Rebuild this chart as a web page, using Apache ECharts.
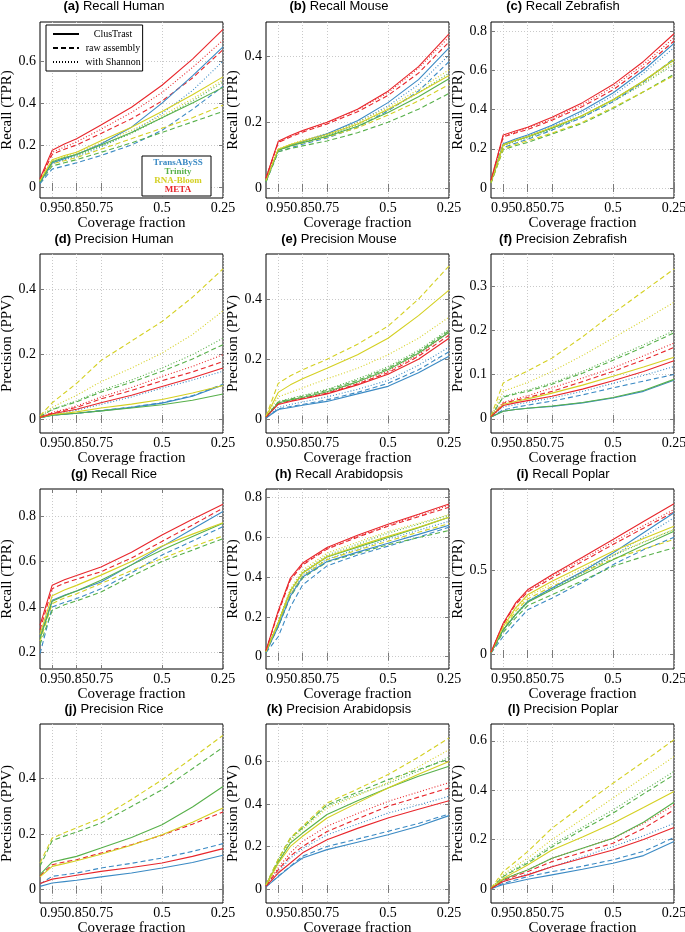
<!DOCTYPE html>
<html><head><meta charset="utf-8">
<script src="https://cdn.jsdelivr.net/npm/echarts@6/dist/echarts.min.js"></script>
<style>html,body{margin:0;padding:0;background:#fff}#c{width:685px;height:932px}</style>
</head><body><div id="c"></div>
<script>
// x positions (coverage fraction) at which every curve is sampled
const coverage = [1, 0.95, 0.9, 0.85, 0.75, 0.625, 0.5, 0.375, 0.25];
const xTickValues = [0.95, 0.85, 0.75, 0.5, 0.25];
const tools = ['TransABySS', 'Trinity', 'RNA-Bloom', 'META'];
const variants = ['ClusTrast', 'raw assembly', 'with Shannon'];
// each tool: [ClusTrast, raw assembly, with Shannon]
const recallHuman = {
  'TransABySS': [[0.02,0.115,0.135,0.155,0.205,0.285,0.40,0.53,0.668],[0.015,0.085,0.10,0.115,0.15,0.20,0.27,0.37,0.48],[0.02,0.11,0.13,0.145,0.19,0.26,0.35,0.46,0.60]],
  'Trinity':    [[0.025,0.12,0.14,0.155,0.2,0.26,0.33,0.40,0.475],[0.02,0.10,0.115,0.13,0.165,0.21,0.26,0.31,0.36],[0.025,0.115,0.135,0.15,0.195,0.255,0.33,0.41,0.50]],
  'RNA-Bloom':  [[0.03,0.13,0.15,0.165,0.22,0.285,0.36,0.44,0.525],[0.025,0.11,0.125,0.14,0.18,0.23,0.28,0.33,0.39],[0.03,0.125,0.145,0.16,0.21,0.27,0.34,0.42,0.51]],
  'META':       [[0.04,0.175,0.205,0.23,0.295,0.38,0.485,0.61,0.752],[0.035,0.155,0.18,0.20,0.255,0.325,0.41,0.52,0.655],[0.04,0.165,0.19,0.215,0.275,0.355,0.45,0.57,0.70]]
};
const recallMouse = {
  'TransABySS': [[0.02,0.115,0.13,0.142,0.165,0.205,0.26,0.33,0.427],[0.018,0.11,0.122,0.133,0.152,0.185,0.235,0.295,0.385],[0.02,0.115,0.128,0.14,0.162,0.2,0.25,0.315,0.405]],
  'Trinity':    [[0.02,0.115,0.128,0.138,0.157,0.188,0.23,0.278,0.333],[0.018,0.11,0.12,0.128,0.143,0.168,0.2,0.24,0.288],[0.02,0.115,0.13,0.14,0.16,0.193,0.237,0.29,0.35]],
  'RNA-Bloom':  [[0.022,0.118,0.132,0.143,0.163,0.195,0.24,0.29,0.343],[0.02,0.115,0.127,0.137,0.155,0.183,0.222,0.265,0.315],[0.022,0.118,0.133,0.145,0.166,0.2,0.245,0.3,0.36]],
  'META':       [[0.03,0.142,0.16,0.175,0.2,0.24,0.295,0.37,0.47],[0.028,0.138,0.155,0.17,0.195,0.232,0.282,0.35,0.445],[0.03,0.14,0.158,0.173,0.198,0.238,0.29,0.365,0.46]]
};
const recallZebrafish = {
  'TransABySS': [[0.03,0.225,0.25,0.27,0.32,0.395,0.484,0.6,0.737],[0.025,0.205,0.228,0.248,0.295,0.36,0.44,0.54,0.66],[0.03,0.22,0.245,0.265,0.313,0.385,0.47,0.585,0.715]],
  'Trinity':    [[0.03,0.22,0.242,0.26,0.305,0.37,0.45,0.545,0.652],[0.025,0.195,0.215,0.232,0.275,0.33,0.405,0.49,0.58],[0.028,0.215,0.237,0.255,0.3,0.362,0.44,0.53,0.63]],
  'RNA-Bloom':  [[0.03,0.22,0.243,0.262,0.31,0.37,0.45,0.545,0.655],[0.025,0.2,0.222,0.24,0.28,0.335,0.41,0.49,0.573],[0.03,0.215,0.24,0.26,0.305,0.37,0.447,0.535,0.64]],
  'META':       [[0.04,0.27,0.29,0.31,0.36,0.435,0.527,0.645,0.786],[0.035,0.26,0.28,0.298,0.345,0.415,0.5,0.615,0.749],[0.04,0.265,0.285,0.305,0.352,0.425,0.515,0.63,0.766]]
};
const precisionHuman = {
  'TransABySS': [[0.004,0.012,0.015,0.018,0.025,0.036,0.049,0.07,0.105],[0.004,0.012,0.015,0.018,0.026,0.037,0.05,0.072,0.107],[0.005,0.014,0.02,0.027,0.045,0.068,0.095,0.12,0.147]],
  'Trinity':    [[0.004,0.012,0.015,0.018,0.025,0.034,0.044,0.058,0.077],[0.008,0.029,0.041,0.053,0.083,0.113,0.147,0.185,0.229],[0.008,0.03,0.043,0.056,0.088,0.12,0.157,0.198,0.249]],
  'RNA-Bloom':  [[0.005,0.014,0.018,0.022,0.034,0.046,0.06,0.08,0.103],[0.01,0.05,0.08,0.11,0.18,0.24,0.30,0.375,0.462],[0.01,0.036,0.055,0.073,0.115,0.157,0.203,0.26,0.333]],
  'META':       [[0.005,0.016,0.023,0.03,0.05,0.073,0.10,0.127,0.157],[0.006,0.018,0.027,0.036,0.062,0.088,0.118,0.145,0.177],[0.006,0.02,0.03,0.04,0.068,0.097,0.131,0.162,0.198]]
};
const precisionMouse = {
  'TransABySS': [[0.005,0.033,0.04,0.047,0.06,0.085,0.11,0.155,0.21],[0.005,0.035,0.043,0.05,0.065,0.09,0.12,0.165,0.225],[0.006,0.04,0.05,0.058,0.075,0.1,0.13,0.18,0.24]],
  'Trinity':    [[0.008,0.055,0.065,0.073,0.092,0.125,0.165,0.22,0.29],[0.008,0.058,0.068,0.077,0.097,0.13,0.17,0.225,0.295],[0.008,0.06,0.07,0.08,0.1,0.135,0.175,0.23,0.30]],
  'RNA-Bloom':  [[0.01,0.09,0.115,0.135,0.17,0.215,0.27,0.345,0.43],[0.01,0.12,0.145,0.165,0.2,0.25,0.31,0.4,0.51],[0.01,0.075,0.09,0.105,0.135,0.17,0.215,0.27,0.34]],
  'META':       [[0.008,0.05,0.06,0.068,0.085,0.115,0.15,0.2,0.27],[0.008,0.053,0.062,0.07,0.087,0.118,0.155,0.21,0.28],[0.008,0.055,0.064,0.072,0.09,0.122,0.16,0.215,0.29]]
};
const precisionZebrafish = {
  'TransABySS': [[0.004,0.017,0.021,0.024,0.028,0.036,0.047,0.062,0.087],[0.004,0.02,0.026,0.031,0.04,0.054,0.07,0.085,0.10],[0.005,0.027,0.032,0.037,0.047,0.062,0.08,0.098,0.118]],
  'Trinity':    [[0.004,0.017,0.021,0.024,0.029,0.037,0.048,0.064,0.089],[0.005,0.049,0.056,0.062,0.078,0.103,0.132,0.162,0.194],[0.005,0.051,0.058,0.065,0.081,0.107,0.137,0.167,0.199]],
  'RNA-Bloom':  [[0.005,0.033,0.039,0.045,0.058,0.076,0.096,0.117,0.139],[0.006,0.081,0.095,0.108,0.137,0.185,0.238,0.288,0.338],[0.006,0.062,0.072,0.082,0.107,0.143,0.182,0.222,0.263]],
  'META':       [[0.005,0.03,0.036,0.041,0.051,0.067,0.086,0.107,0.131],[0.005,0.035,0.042,0.048,0.062,0.084,0.107,0.133,0.161],[0.005,0.037,0.045,0.052,0.07,0.092,0.115,0.142,0.171]]
};
const recallRice = {
  'TransABySS': [[0.27,0.43,0.452,0.47,0.51,0.585,0.665,0.742,0.819],[0.195,0.40,0.42,0.437,0.48,0.55,0.628,0.69,0.753],null],
  'Trinity':    [[0.26,0.425,0.45,0.47,0.518,0.585,0.65,0.71,0.768],[0.235,0.385,0.41,0.427,0.466,0.535,0.6,0.65,0.70],null],
  'RNA-Bloom':  [[0.28,0.45,0.475,0.495,0.54,0.6,0.668,0.72,0.77],[0.25,0.415,0.44,0.458,0.503,0.56,0.613,0.665,0.712],null],
  'META':       [[0.32,0.496,0.52,0.538,0.576,0.64,0.716,0.785,0.851],[0.30,0.48,0.505,0.522,0.555,0.615,0.688,0.76,0.834],null]
};
const recallArabidopsis = {
  'TransABySS': [[0.022,0.15,0.305,0.4,0.478,0.525,0.57,0.614,0.66],[0.02,0.10,0.25,0.36,0.456,0.51,0.555,0.6,0.65],[0.022,0.155,0.315,0.41,0.49,0.54,0.59,0.635,0.68]],
  'Trinity':    [[0.025,0.17,0.33,0.42,0.5,0.55,0.598,0.648,0.70],[0.022,0.15,0.3,0.395,0.475,0.52,0.562,0.598,0.634],[0.025,0.172,0.335,0.425,0.51,0.565,0.62,0.665,0.71]],
  'RNA-Bloom':  [[0.025,0.17,0.33,0.42,0.503,0.555,0.604,0.65,0.70],[0.025,0.16,0.31,0.405,0.487,0.535,0.58,0.625,0.668],[0.025,0.175,0.34,0.435,0.52,0.575,0.628,0.67,0.713]],
  'META':       [[0.03,0.23,0.395,0.47,0.548,0.61,0.665,0.715,0.767],[0.03,0.22,0.385,0.46,0.54,0.6,0.655,0.703,0.75],[0.03,0.225,0.39,0.465,0.543,0.605,0.66,0.71,0.76]]
};
const recallPoplar = {
  'TransABySS': [[0.008,0.145,0.235,0.315,0.396,0.495,0.606,0.727,0.847],[0.005,0.105,0.185,0.265,0.335,0.43,0.536,0.625,0.70],[0.008,0.143,0.232,0.31,0.39,0.485,0.588,0.703,0.817]],
  'Trinity':    [[0.008,0.145,0.235,0.31,0.386,0.475,0.566,0.652,0.737],[0.006,0.13,0.215,0.29,0.355,0.44,0.526,0.585,0.637],[0.008,0.145,0.24,0.318,0.395,0.49,0.59,0.67,0.747]],
  'RNA-Bloom':  [[0.01,0.165,0.275,0.355,0.436,0.527,0.616,0.693,0.767],[0.008,0.15,0.255,0.33,0.405,0.49,0.57,0.63,0.687],[0.01,0.16,0.268,0.345,0.42,0.51,0.596,0.673,0.747]],
  'META':       [[0.01,0.185,0.305,0.385,0.476,0.58,0.687,0.795,0.902],[0.01,0.178,0.295,0.372,0.456,0.555,0.657,0.755,0.853],[0.01,0.18,0.3,0.378,0.468,0.568,0.672,0.77,0.867]]
};
const precisionRice = {
  'TransABySS': [[0.012,0.024,0.029,0.034,0.046,0.06,0.078,0.098,0.124],[0.02,0.048,0.054,0.06,0.078,0.095,0.114,0.138,0.166],null],
  'Trinity':    [[0.054,0.10,0.11,0.12,0.15,0.188,0.234,0.298,0.372],[0.084,0.177,0.193,0.208,0.24,0.3,0.36,0.436,0.513],null],
  'RNA-Bloom':  [[0.046,0.084,0.094,0.104,0.128,0.16,0.198,0.243,0.294],[0.096,0.186,0.205,0.223,0.258,0.325,0.396,0.475,0.556],null],
  'META':       [[0.022,0.038,0.045,0.052,0.066,0.08,0.096,0.12,0.148],[0.05,0.09,0.1,0.108,0.132,0.162,0.196,0.236,0.28],null]
};
const precisionArabidopsis = {
  'TransABySS': [[0.01,0.058,0.105,0.146,0.185,0.22,0.255,0.295,0.345],[0.01,0.06,0.107,0.154,0.2,0.235,0.271,0.308,0.353],[0.012,0.08,0.145,0.19,0.255,0.305,0.357,0.395,0.436]],
  'Trinity':    [[0.018,0.125,0.216,0.263,0.35,0.415,0.475,0.53,0.577],[0.02,0.138,0.24,0.287,0.395,0.455,0.514,0.562,0.611],[0.02,0.135,0.235,0.29,0.39,0.445,0.495,0.555,0.62]],
  'RNA-Bloom':  [[0.018,0.12,0.2,0.248,0.334,0.405,0.475,0.54,0.60],[0.02,0.14,0.24,0.295,0.404,0.47,0.538,0.62,0.71],[0.02,0.13,0.225,0.28,0.38,0.44,0.5,0.575,0.655]],
  'META':       [[0.012,0.075,0.122,0.17,0.232,0.285,0.334,0.375,0.415],[0.015,0.09,0.155,0.2,0.27,0.33,0.389,0.432,0.475],[0.015,0.1,0.17,0.224,0.295,0.355,0.412,0.456,0.50]]
};
const precisionPoplar = {
  'TransABySS': [[0.001,0.018,0.028,0.039,0.057,0.08,0.104,0.135,0.192],[0.001,0.022,0.036,0.05,0.07,0.092,0.118,0.152,0.208],[0.002,0.03,0.045,0.06,0.09,0.13,0.172,0.215,0.266]],
  'Trinity':    [[0.002,0.038,0.058,0.077,0.124,0.165,0.205,0.27,0.351],[0.002,0.05,0.078,0.104,0.17,0.24,0.307,0.385,0.462],[0.002,0.052,0.082,0.11,0.178,0.25,0.32,0.398,0.476]],
  'RNA-Bloom':  [[0.002,0.042,0.07,0.097,0.158,0.21,0.266,0.33,0.395],[0.002,0.07,0.11,0.151,0.246,0.338,0.428,0.515,0.604],[0.002,0.058,0.093,0.124,0.2,0.283,0.368,0.452,0.536]],
  'META':       [[0.002,0.03,0.044,0.057,0.09,0.124,0.158,0.2,0.249],[0.002,0.034,0.052,0.07,0.111,0.148,0.185,0.245,0.32],[0.002,0.038,0.058,0.077,0.124,0.165,0.205,0.265,0.34]]
};

const panelLetters = ['a','b','c','d','e','f','g','h','i','j','k','l'];
const panelTitles = ['Recall Human','Recall Mouse','Recall Zebrafish','Precision Human','Precision Mouse','Precision Zebrafish','Recall Rice','Recall Arabidopsis','Recall Poplar','Precision Rice','Precision Arabidopsis','Precision Poplar'];
const panelData = [recallHuman, recallMouse, recallZebrafish, precisionHuman, precisionMouse, precisionZebrafish, recallRice, recallArabidopsis, recallPoplar, precisionRice, precisionArabidopsis, precisionPoplar];
const yAxisNames = ['Recall (TPR)','Recall (TPR)','Recall (TPR)','Precision (PPV)','Precision (PPV)','Precision (PPV)','Recall (TPR)','Recall (TPR)','Recall (TPR)','Precision (PPV)','Precision (PPV)','Precision (PPV)'];
const yRanges = [[-0.053,0.787],[-0.031,0.506],[-0.051,0.846],[-0.043,0.508],[-0.045,0.55],[-0.032,0.372],[0.128,0.918],[-0.062,0.842],[-0.09,0.99],[-0.048,0.597],[-0.066,0.776],[-0.057,0.668]];
const yTickValues = [[0,0.2,0.4,0.6],[0,0.2,0.4],[0,0.2,0.4,0.6,0.8],[0,0.2,0.4],[0,0.2,0.4],[0,0.1,0.2,0.3],[0.2,0.4,0.6,0.8],[0,0.2,0.4,0.6,0.8],[0,0.5],[0,0.2,0.4],[0,0.2,0.4,0.6],[0,0.2,0.4,0.6]];

// ---- styling / layout ----
const toolColors = {'TransABySS':'#3b8ac4','Trinity':'#57b04a','RNA-Bloom':'#d4d022','META':'#e8262b'};
const variantDash = ['solid',[5,3],[1,2]];
const colLeft = [40, 266, 491], plotW = 183;
const rowTop = [22, 254, 489, 724], rowBottom = [198, 433, 669, 903];
const subCenter = [114, 339, 563];
const titleTop = [0, 233, 468, 703];
const SERIF = 'Liberation Serif';
const SANS = 'Liberation Sans';
const tickStyle = {color:'#7a7a7a', width:1};
const gridLineStyle = {color:'#c9c9c9', width:1, type:[1,2]};

const grid = [], xAxis = [], yAxis = [], series = [], title = [];
panelTitles.forEach((t, p) => {
  const r = Math.floor(p / 3), c = p % 3;
  grid.push({left: colLeft[c], top: rowTop[r], width: plotW, height: rowBottom[r] - rowTop[r],
    show: true, borderColor: '#000', borderWidth: 1, backgroundColor: 'transparent', containLabel: false, outerBoundsMode: 'none'});
  title.push({text: '{b|(' + panelLetters[p] + ')} {n|' + t + '}', left: subCenter[c], top: titleTop[r], textAlign: 'center', padding: 0,
    textStyle: {fontWeight: 'normal', fontSize: 13, rich: {b: {fontFamily: SANS, fontWeight: 'bold', fontSize: 13, color: '#000'}, n: {fontFamily: SANS, fontWeight: 'normal', fontSize: 13, color: '#000'}}}});
  xAxis.push({gridIndex: p, type: 'value', min: 0.25, max: 1, inverse: true, position: 'bottom',
    name: 'Coverage fraction', nameLocation: 'middle', nameGap: 13,
    nameTextStyle: {fontFamily: SERIF, fontSize: 15, color: '#000'},
    axisLine: {show: false},
    axisTick: {show: true, inside: true, length: 4, customValues: xTickValues, lineStyle: tickStyle},
    axisLabel: {customValues: xTickValues, formatter: v => String(v), margin: 3, fontFamily: SERIF, fontSize: 14, color: '#000'},
    splitLine: {show: true, lineStyle: gridLineStyle}});
  xAxis.push({gridIndex: p, type: 'value', min: 0.25, max: 1, inverse: true, position: 'top',
    axisLine: {show: false}, axisTick: {show: true, inside: true, length: 4, customValues: xTickValues, lineStyle: tickStyle},
    axisLabel: {show: false}, splitLine: {show: false}});
  yAxis.push({gridIndex: p, type: 'value', min: yRanges[p][0], max: yRanges[p][1], position: 'left',
    name: yAxisNames[p], nameLocation: 'middle', nameGap: 23,
    nameTextStyle: {fontFamily: SERIF, fontSize: 15, color: '#000'},
    axisLine: {show: false},
    axisTick: {show: true, inside: true, length: 4, customValues: yTickValues[p], lineStyle: tickStyle},
    axisLabel: {customValues: yTickValues[p], formatter: v => String(v), margin: 4, fontFamily: SERIF, fontSize: 14, color: '#000'},
    splitLine: {show: true, lineStyle: gridLineStyle}});
  yAxis.push({gridIndex: p, type: 'value', min: yRanges[p][0], max: yRanges[p][1], position: 'right',
    axisLine: {show: false}, axisTick: {show: true, inside: true, length: 4, customValues: yTickValues[p], lineStyle: tickStyle},
    axisLabel: {show: false}, splitLine: {show: false}});
  // draw order: with Shannon, raw assembly, ClusTrast
  [2, 1, 0].forEach(v => {
    tools.forEach(tool => {
      const vals = panelData[p][tool][v];
      if (!vals) return;
      series.push({type: 'line', name: panelLetters[p] + ' ' + tool + ' ' + variants[v],
        xAxisIndex: 2 * p, yAxisIndex: 2 * p, symbol: 'none', silent: true, animation: false,
        data: coverage.map((cv, i) => [cv, vals[i]]),
        lineStyle: {color: toolColors[tool], width: 1.1, type: variantDash[v]}});
    });
  });
});
// legend-only series (no data)
variants.forEach((v, i) => series.push({type: 'line', name: v, xAxisIndex: 0, yAxisIndex: 0, data: [], symbol: 'none',
  itemStyle: {opacity: 0}, lineStyle: {color: '#000', width: 1.1, type: variantDash[i]}}));
tools.forEach(t => series.push({type: 'line', name: t, xAxisIndex: 0, yAxisIndex: 0, data: [], symbol: 'none',
  lineStyle: {color: toolColors[t]}}));

const legend = [
  {data: variants, orient: 'vertical', left: 46, top: 25, itemWidth: 26, itemHeight: 10, itemGap: 4, selectedMode: false,
   itemStyle: {opacity: 0, borderWidth: 0}, formatter: '{c|{name}}',
   backgroundColor: '#fff', borderColor: '#000', borderWidth: 1, borderRadius: 0, padding: [4, 2, 4, 6],
   textStyle: {fontFamily: SERIF, fontSize: 10, color: '#000', rich: {c: {width: 58, align: 'center', fontFamily: SERIF, fontSize: 10}}}},
  {data: tools.map(t => ({name: t, icon: 'none', textStyle: {color: toolColors[t]}})), orient: 'vertical', left: 142, top: 156,
   itemWidth: 0, itemHeight: 8, itemGap: 0, selectedMode: false, align: 'left', formatter: '{c|{name}}',
   backgroundColor: '#fff', borderColor: '#000', borderWidth: 1, borderRadius: 0, padding: [2, 3, 2, 1],
   textStyle: {fontFamily: SERIF, fontSize: 9, fontWeight: 'bold', lineHeight: 9,
     rich: {c: {width: 60, align: 'center', fontFamily: SERIF, fontSize: 9, fontWeight: 'bold', lineHeight: 9}}}}
];

const chart = echarts.init(document.getElementById('c'), null, {renderer: 'canvas'});
chart.setOption({animation: false, backgroundColor: '#fff', grid, xAxis, yAxis, series, title, legend});
</script></body></html>
